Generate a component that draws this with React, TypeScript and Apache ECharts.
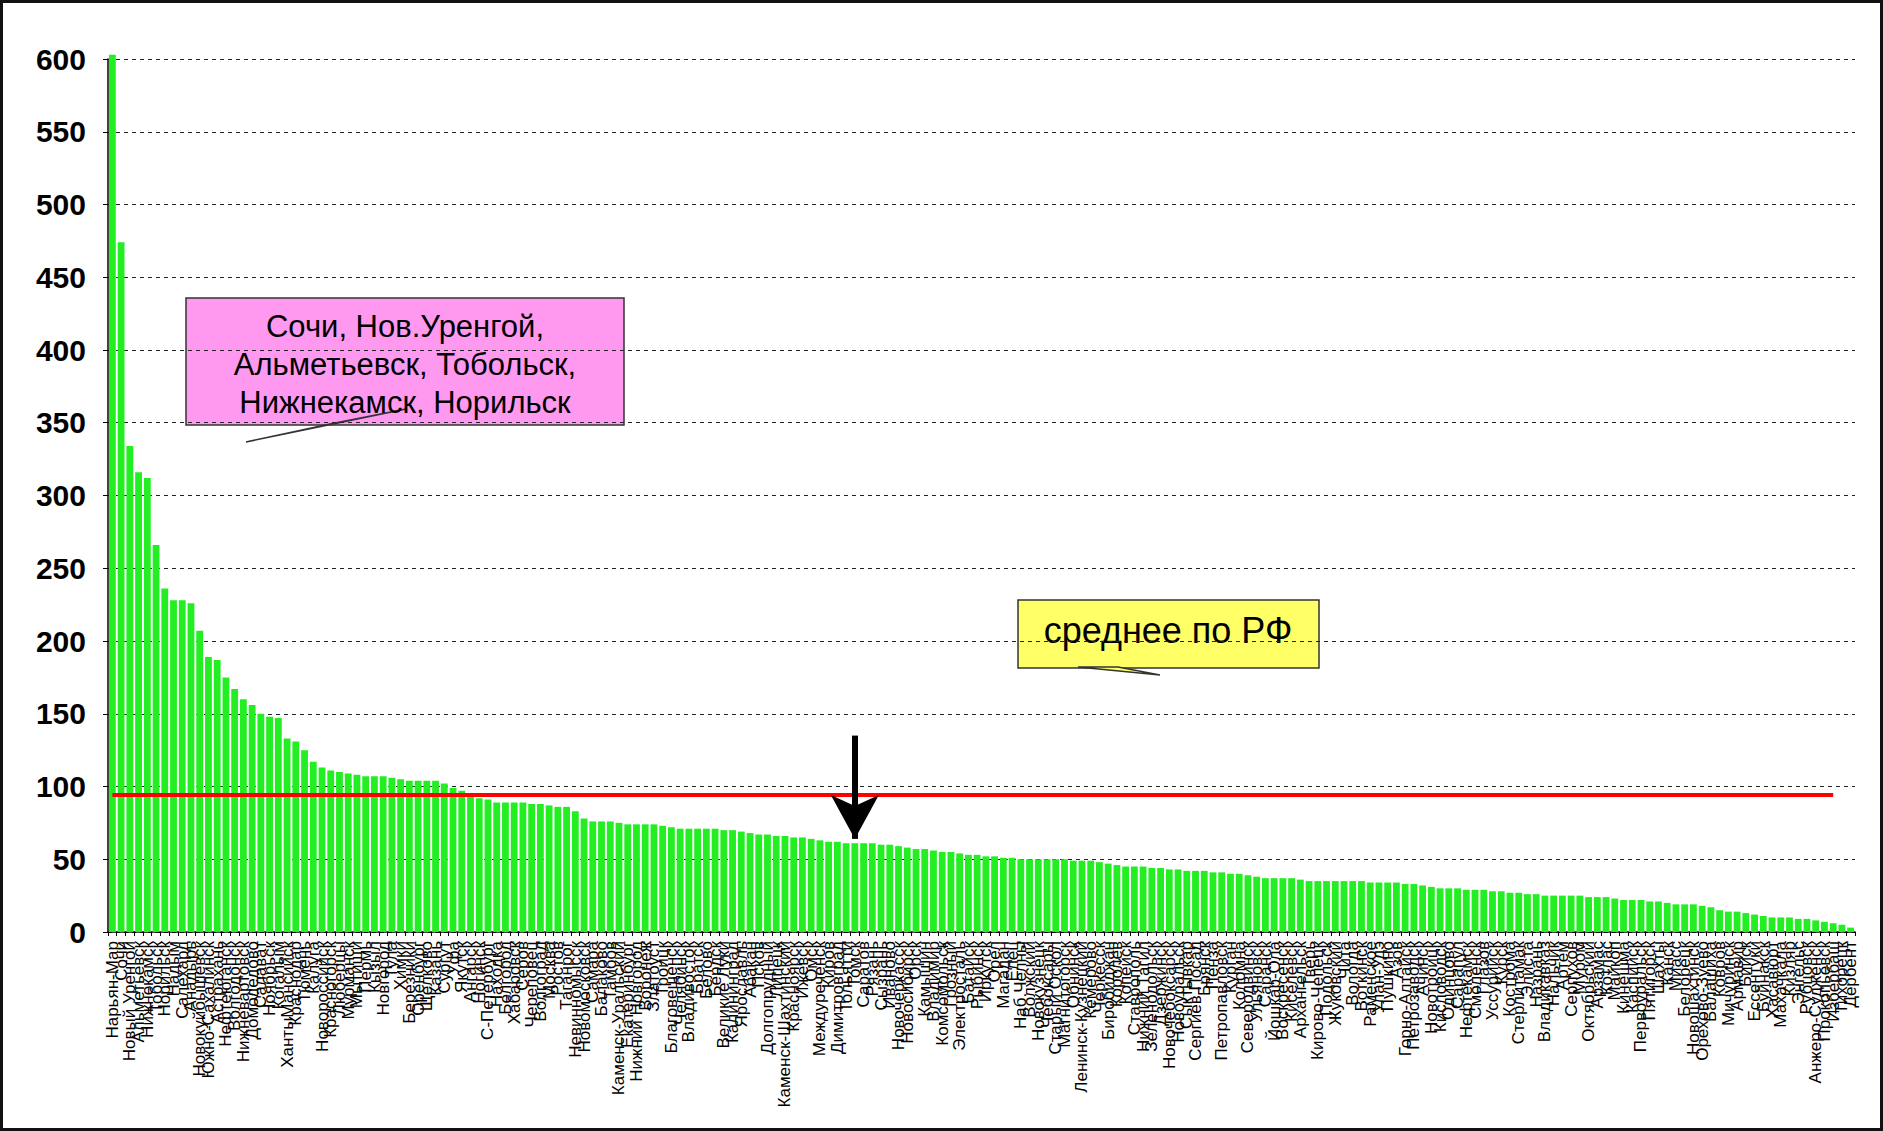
import React, { useEffect, useRef } from "react";
import * as echarts from "echarts";

const categories: string[] = [
  "Нарьян-Мар", "Сочи", "Новый Уренгой", "Альметьевск", "Нижнекамск", "Тобольск", "Норильск", "Надым", "Салехард", "Анадырь",
  "Новокуйбышевск", "Южно-Сахалинск", "Астрахань", "Нефтеюганск", "Волгодонск", "Нижневартовск", "Домодедово", "Салават", "Ноябрьск", "Когалым",
  "ХантыМансийск", "Краснодар", "Тюмень", "Калуга", "Новороссийск", "Красногорск", "Люберцы", "Мурманск", "Мытищи", "Пермь",
  "Кызыл", "Новгород", "Тула", "Химки", "Березники", "Оренбург", "Щелково", "Казань", "Сургут", "Уфа",
  "Якутск", "Ангарск", "Ногинск", "С-Петербург", "Находка", "Белгород", "Хабаровск", "Серов", "Череповец", "Волгоград",
  "Москва", "Ростов", "Таганрог", "Невинномысск", "Новомосковск", "Самара", "Балаково", "Тамбов", "Каменск-Уральский", "Екатеринбург",
  "Нижний Новгород", "Воронеж", "Златоуст", "Троицк", "Благовещенск", "Челябинск", "Владивосток", "Братск", "Белово", "Бердск",
  "Великие Луки", "Калининград", "Ярославль", "Абакан", "Псков", "Долгопрудный", "Липецк", "Каменск-Шахтинский", "Красноярск", "Ижевск",
  "Омск", "Междуреченск", "Киров", "Димитровград", "Тольятти", "Томск", "Саратов", "Рязань", "Сызрань", "Иваново",
  "Новочеркасск", "Новосибирск", "Орск", "Камышин", "Владимир", "Комсомольск", "Грозный", "Электросталь", "Батайск", "Рыбинск",
  "Иркутск", "Орел", "Магадан", "Елец", "Наб.Челны", "Волжский", "Новокузнецк", "Чебоксары", "Старый Оскол", "Магнитогорск",
  "Обнинск", "Ленинск-Кузнецкий", "Кемерово", "Черкесск", "Биробиджан", "Королев", "Копейск", "Ставрополь", "Нижний Тагил", "Зеленодольск",
  "Дзержинск", "Новочебоксарск", "Новоуральск", "Сыктывкар", "Сергиев Посад", "Брянск", "Пенза", "Петропавловск", "Курган", "Коломна",
  "Северодвинск", "Ульяновск", "Саранск", "Йошкар-Ола", "Воскресенск", "Киселевск", "Архангельск", "Тверь", "Кирово-Чепецк", "Подольск",
  "Жуковский", "Чита", "Вологда", "Воткинск", "Раменское", "Улан-Удэ", "Пушкино", "Азов", "Горно-Алтайск", "Петрозаводск",
  "Ачинск", "Новотроицк", "Кисловодск", "Одинцово", "Сарапул", "Нефтекамск", "Смоленск", "Глазов", "Уссурийск", "Курск",
  "Кострома", "Стерлитамак", "Элиста", "Назрань", "Владикавказ", "Нальчик", "Артем", "Серпухов", "Муром", "Октябрьский",
  "Арзамас", "Котлас", "Майкоп", "Кинешма", "Каспийск", "Первоуральск", "Пятигорск", "Шахты", "Канск", "Миасс",
  "Белорецк", "Новошахтинск", "Орехово-Зуево", "Балашиха", "Ковров", "Мичуринск", "Армавир", "Бийск", "Ессентуки", "Буйнакск",
  "Хасавюрт", "Махачкала", "Кизляр", "Энгельс", "Рубцовск", "Анжеро-Судженск", "Прокопьевск", "Избербаш", "Тихорецк", "Дербент",
];

const values: number[] = [
  603, 474, 334, 316, 312, 266, 236, 228, 228, 226,
  207, 189, 187, 175, 167, 160, 156, 150, 148, 147,
  133, 131, 125, 117, 113, 111, 110, 109, 108, 107,
  107, 107, 106, 105, 104, 104, 104, 104, 102, 99,
  97, 93, 92, 91, 89, 89, 89, 89, 88, 88,
  87, 86, 86, 83, 78, 76, 76, 76, 75, 74,
  74, 74, 74, 73, 72, 71, 71, 71, 71, 71,
  70, 70, 69, 68, 67, 67, 66, 66, 65, 65,
  64, 63, 62, 62, 61, 61, 61, 61, 60, 60,
  59, 58, 57, 57, 56, 55, 55, 54, 53, 53,
  52, 52, 51, 51, 50, 50, 50, 50, 50, 50,
  49, 49, 49, 48, 47, 46, 45, 45, 45, 44,
  44, 43, 43, 42, 42, 42, 41, 41, 40, 40,
  39, 38, 37, 37, 37, 37, 36, 35, 35, 35,
  35, 35, 35, 35, 34, 34, 34, 34, 33, 33,
  32, 31, 30, 30, 30, 29, 29, 29, 28, 28,
  27, 27, 26, 26, 25, 25, 25, 25, 25, 24,
  24, 24, 23, 22, 22, 22, 21, 21, 20, 19,
  19, 19, 18, 17, 15, 14, 14, 13, 12, 11,
  10, 10, 10, 9, 9, 8, 7, 6, 5, 3,
];

const AVG_RF = 94;
const AVG_LINE_LAST_INDEX = 197;
const ARROW_INDEX = 85;
const ARROW_FROM = 135;
const ARROW_TO = 64;

const Y_MIN = 0;
const Y_MAX = 600;
const Y_INTERVAL = 50;

const pinkNoteLines = ["Сочи, Нов.Уренгой,", "Альметьевск, Тобольск,", "Нижнекамск, Норильск"];
const yellowNote = "среднее по РФ";

const FONT = "'Liberation Sans', Arial, sans-serif";

export default function App() {
  const ref = useRef<HTMLDivElement>(null);

  useEffect(() => {
    if (!ref.current) return;
    const chart = echarts.init(ref.current, null, { renderer: "svg" });
    chart.setOption({
      animation: false,
      backgroundColor: "#ffffff",
      grid: { left: 108, right: 28, top: 59, bottom: 199, containLabel: false },
      xAxis: {
        type: "category",
        data: categories,
        boundaryGap: true,
        axisLine: { show: true, lineStyle: { color: "#000", width: 1.5 } },
        axisTick: { show: true, interval: 0, length: 4, lineStyle: { color: "#000" } },
        axisLabel: {
          interval: 0,
          rotate: 90,
          fontSize: 17,
          fontFamily: FONT,
          color: "#000",
          margin: 9,
          hideOverlap: false,
        },
        splitLine: { show: false },
      },
      yAxis: {
        type: "value",
        min: Y_MIN,
        max: Y_MAX,
        interval: Y_INTERVAL,
        axisLine: { show: true, lineStyle: { color: "#000", width: 1.5 } },
        axisTick: { show: true, length: 5, lineStyle: { color: "#000" } },
        axisLabel: {
          fontSize: 30,
          fontWeight: "bold",
          fontFamily: FONT,
          color: "#000",
          margin: 22,
        },
        splitLine: { show: true, lineStyle: { color: "#222", width: 1, type: [4, 4] } },
      },
      series: [
        {
          type: "bar",
          data: values,
          barCategoryGap: "22%",
          clip: false,
          itemStyle: { color: "#22ee22" },
          emphasis: { disabled: true },
          silent: true,
          markLine: {
            silent: true,
            symbol: ["none", "none"],
            label: { show: false },
            emphasis: { disabled: true },
            data: [
              [
                { coord: [categories[0], AVG_RF], symbol: "none" },
                { coord: [categories[AVG_LINE_LAST_INDEX], AVG_RF], symbol: "none" },
              ],
              [
                {
                  coord: [categories[ARROW_INDEX], ARROW_FROM],
                  symbol: "none",
                  lineStyle: { color: "#000", width: 6, type: "solid" },
                },
                {
                  coord: [categories[ARROW_INDEX], ARROW_TO],
                  symbol: "arrow",
                  symbolSize: [36, 44],
                },
              ],
            ],
            lineStyle: { color: "#ff0000", width: 4, type: "solid" },
          },
        },
      ],
      graphic: [
        {
          type: "rect",
          shape: { x: 1.5, y: 1.5, width: 1880, height: 1128 },
          style: { fill: "none", stroke: "#111", lineWidth: 3 },
          silent: true,
        },
        {
          type: "group",
          silent: true,
          children: [
            {
              type: "rect",
              shape: { x: 186, y: 298, width: 438, height: 127 },
              style: { fill: "#ff99f0", stroke: "#333", lineWidth: 1.5 },
            },
            {
              type: "polygon",
              shape: { points: [[330, 424], [406, 409], [246, 442]] },
              style: { fill: "#ff99f0", stroke: "#333", lineWidth: 1.5 },
            },
            {
              type: "text",
              x: 405,
              y: 364,
              style: {
                text: pinkNoteLines.join("\n"),
                align: "center",
                verticalAlign: "middle",
                fontSize: 31,
                lineHeight: 38,
                fontFamily: FONT,
                fill: "#000",
              },
            },
          ],
        },
        {
          type: "group",
          silent: true,
          children: [
            {
              type: "rect",
              shape: { x: 1018, y: 600, width: 301, height: 68 },
              style: { fill: "#ffff66", stroke: "#333", lineWidth: 1.5 },
            },
            {
              type: "polygon",
              shape: { points: [[1078, 667], [1118, 667], [1160, 675]] },
              style: { fill: "#ffff66", stroke: "#333", lineWidth: 1.5 },
            },
            {
              type: "text",
              x: 1168,
              y: 630,
              style: {
                text: yellowNote,
                align: "center",
                verticalAlign: "middle",
                fontSize: 36,
                fontFamily: FONT,
                fill: "#000",
              },
            },
          ],
        },
      ],
    });
    return () => chart.dispose();
  }, []);

  return (
    <div
      ref={ref}
      style={{ position: "absolute", left: 0, top: 0, width: 1883, height: 1131, background: "#fff" }}
    />
  );
}
